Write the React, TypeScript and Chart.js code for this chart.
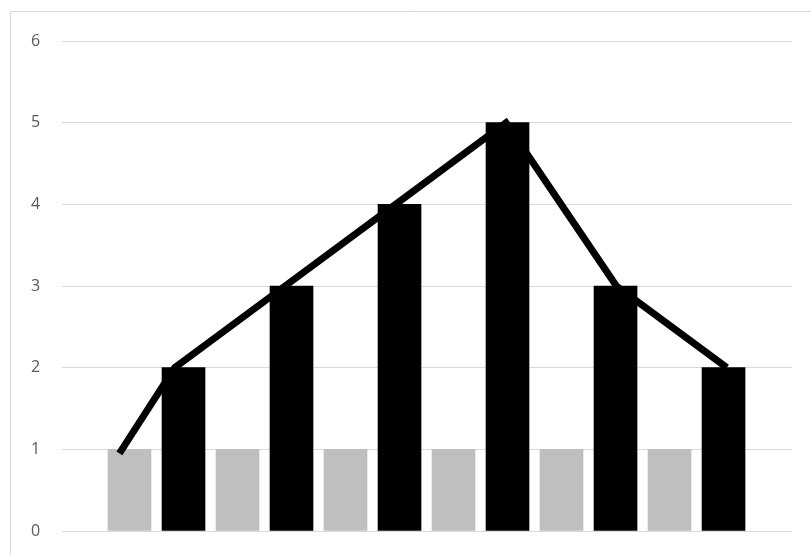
import React, { useEffect, useRef } from "react";
import { Chart, registerables } from "chart.js";

Chart.register(...registerables);

// Category positions of the column pairs
const CATEGORIES = [1, 2, 3, 4, 5, 6];
// Grey columns (first series)
const GRAY_VALUES = [1, 1, 1, 1, 1, 1];
// Black columns (second series)
const BLACK_VALUES = [2, 3, 4, 5, 3, 2];
// Line series (scatter with straight lines)
const LINE_X = [0.5, 1, 2, 3, 4, 5, 6];
const LINE_Y = [0.95, 2, 3, 4, 5, 3, 2];
// Value axis
const Y_MIN = 0;
const Y_MAX = 6;
const Y_STEP = 1;

const framePlugin = {
  id: "frame",
  beforeDraw(chart: any) {
    const { ctx, width, height } = chart;
    ctx.save();
    ctx.fillStyle = "#ffffff";
    ctx.fillRect(0, 0, width, height);
    ctx.strokeStyle = "#d9d9d9";
    ctx.lineWidth = 1;
    ctx.beginPath();
    ctx.moveTo(10.5, height);
    ctx.lineTo(10.5, 11.5);
    ctx.lineTo(width, 11.5);
    ctx.stroke();
    ctx.restore();
  },
};

const hiddenLinear = (min: number, max: number) => ({
  type: "linear",
  display: false,
  offset: false,
  bounds: "data",
  min,
  max,
  grid: { display: false, offset: false },
});

export default function App() {
  const ref = useRef<HTMLCanvasElement | null>(null);

  useEffect(() => {
    const canvas = ref.current;
    if (!canvas) return;
    const chart = new Chart(canvas, {
      type: "bar",
      data: {
        labels: CATEGORIES,
        datasets: [
          {
            type: "line",
            label: "Line",
            data: LINE_X.map((x, i) => ({ x, y: LINE_Y[i] })),
            xAxisID: "xl",
            yAxisID: "y",
            borderColor: "#000000",
            backgroundColor: "#000000",
            borderWidth: 7,
            borderJoinStyle: "miter",
            borderCapStyle: "butt",
            pointRadius: 0,
            tension: 0,
            order: 0,
          } as any,
          {
            type: "bar",
            label: "Grey",
            data: GRAY_VALUES,
            xAxisID: "xg",
            yAxisID: "y",
            backgroundColor: "#bfbfbf",
            borderWidth: 0,
            barThickness: 43,
            grouped: false,
            order: 1,
          },
          {
            type: "bar",
            label: "Black",
            data: BLACK_VALUES,
            xAxisID: "xk",
            yAxisID: "y",
            backgroundColor: "#000000",
            borderWidth: 0,
            barThickness: 43,
            grouped: false,
            order: 1,
          },
        ],
      },
      options: {
        responsive: false,
        animation: false,
        events: [],
        layout: { padding: { left: 31, right: 19, top: 41, bottom: 24 } },
        plugins: {
          legend: { display: false },
          tooltip: { enabled: false },
          title: { display: false },
        },
        scales: {
          // grey column of each category sits a quarter category left of the pair centre
          xg: hiddenLinear(0.375, 7.134),
          // black column sits a quarter category right of the pair centre
          xk: hiddenLinear(-0.125, 6.634),
          xl: hiddenLinear(-0.02, 6.59),
          y: {
            type: "linear",
            position: "left",
            offset: false,
            min: Y_MIN,
            max: Y_MAX,
            afterFit: (scale: any) => {
              scale.width = 31;
            },
            ticks: {
              stepSize: Y_STEP,
              padding: 0,
              crossAlign: "far",
              color: "#595959",
              font: { family: "'Open Sans', 'Noto Sans', sans-serif", size: 16 },
            },
            grid: {
              color: "#d9d9d9",
              lineWidth: 1,
              drawTicks: false,
            },
            border: { display: false },
          },
        } as any,
      },
      plugins: [framePlugin],
    });
    return () => chart.destroy();
  }, []);

  return (
    <canvas
      ref={ref}
      width={811}
      height={555}
      style={{ position: "fixed", left: 0, top: 0, width: 811, height: 555, display: "block" }}
    />
  );
}
